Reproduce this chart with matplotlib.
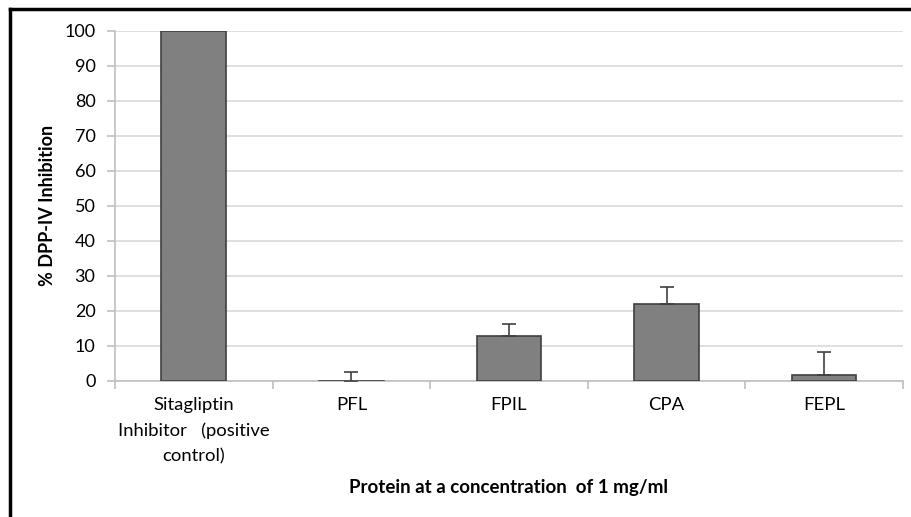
import numpy as np
import matplotlib.pyplot as plt
from matplotlib.lines import Line2D

# valores
categorias = ['Sitagliptin\nInhibitor   (positive\ncontrol)', 'PFL', 'FPIL', 'CPA', 'FEPL']
inhibicion = [100, -0.3, 12.8, 21.8, 1.5]
error_sup = [0, 2.8, 3.4, 5.1, 6.8]

plt.rcParams['font.family'] = ['Lato', 'DejaVu Sans']

fig = plt.figure(figsize=(9.12, 5.17), dpi=100)
ax = fig.add_axes([0.1261, 0.2636, 0.8640, 0.6774])

x = np.arange(len(categorias))
ax.bar(x, inhibicion, width=0.41, color='#808080', edgecolor='#404040',
       linewidth=1.2, zorder=3)

# barras de error solo hacia arriba
idx = [i for i, e in enumerate(error_sup) if e > 0]
ax.errorbar(x[idx], [inhibicion[i] for i in idx],
            yerr=[[0] * len(idx), [error_sup[i] for i in idx]],
            fmt='none', ecolor='#404040', elinewidth=1.2, capsize=5,
            capthick=1.2, zorder=4)

ax.set_xlim(-0.5, len(categorias) - 0.5)
ax.set_ylim(0, 100)
ax.set_yticks(np.arange(0, 101, 10))
ax.yaxis.grid(True, color='#d9d9d9', linewidth=1.2, zorder=0)
ax.set_axisbelow(True)

ax.set_xticks(x)
ax.set_xticklabels(categorias, fontsize=13.3, linespacing=1.68)
ax.set_xticks(np.arange(-0.5, len(categorias), 1), minor=True)
ax.tick_params(axis='x', which='major', length=0, pad=12)
ax.tick_params(axis='x', which='minor', length=6, color='#bfbfbf', width=1.2)
ax.tick_params(axis='y', length=6, color='#bfbfbf', width=1.2, labelsize=13, pad=8)

for s in ['top', 'right']:
    ax.spines[s].set_visible(False)
for s in ['left', 'bottom']:
    ax.spines[s].set_color('#bfbfbf')
    ax.spines[s].set_linewidth(1.2)

ax.set_ylabel('% DPP-IV Inhibition', fontsize=13, fontweight='bold', labelpad=6)
ax.set_xlabel('Protein at a concentration  of 1 mg/ml', fontsize=13.5,
              fontweight='bold', labelpad=11)

# marco negro de la figura
fig.add_artist(Line2D([10 / 912, 10 / 912], [0, 1 - 9 / 517],
                      transform=fig.transFigure, color='black', linewidth=2.5))
fig.add_artist(Line2D([10 / 912, 1], [1 - 9 / 517, 1 - 9 / 517],
                      transform=fig.transFigure, color='black', linewidth=2.5))

fig.savefig('out.png', dpi=100)
